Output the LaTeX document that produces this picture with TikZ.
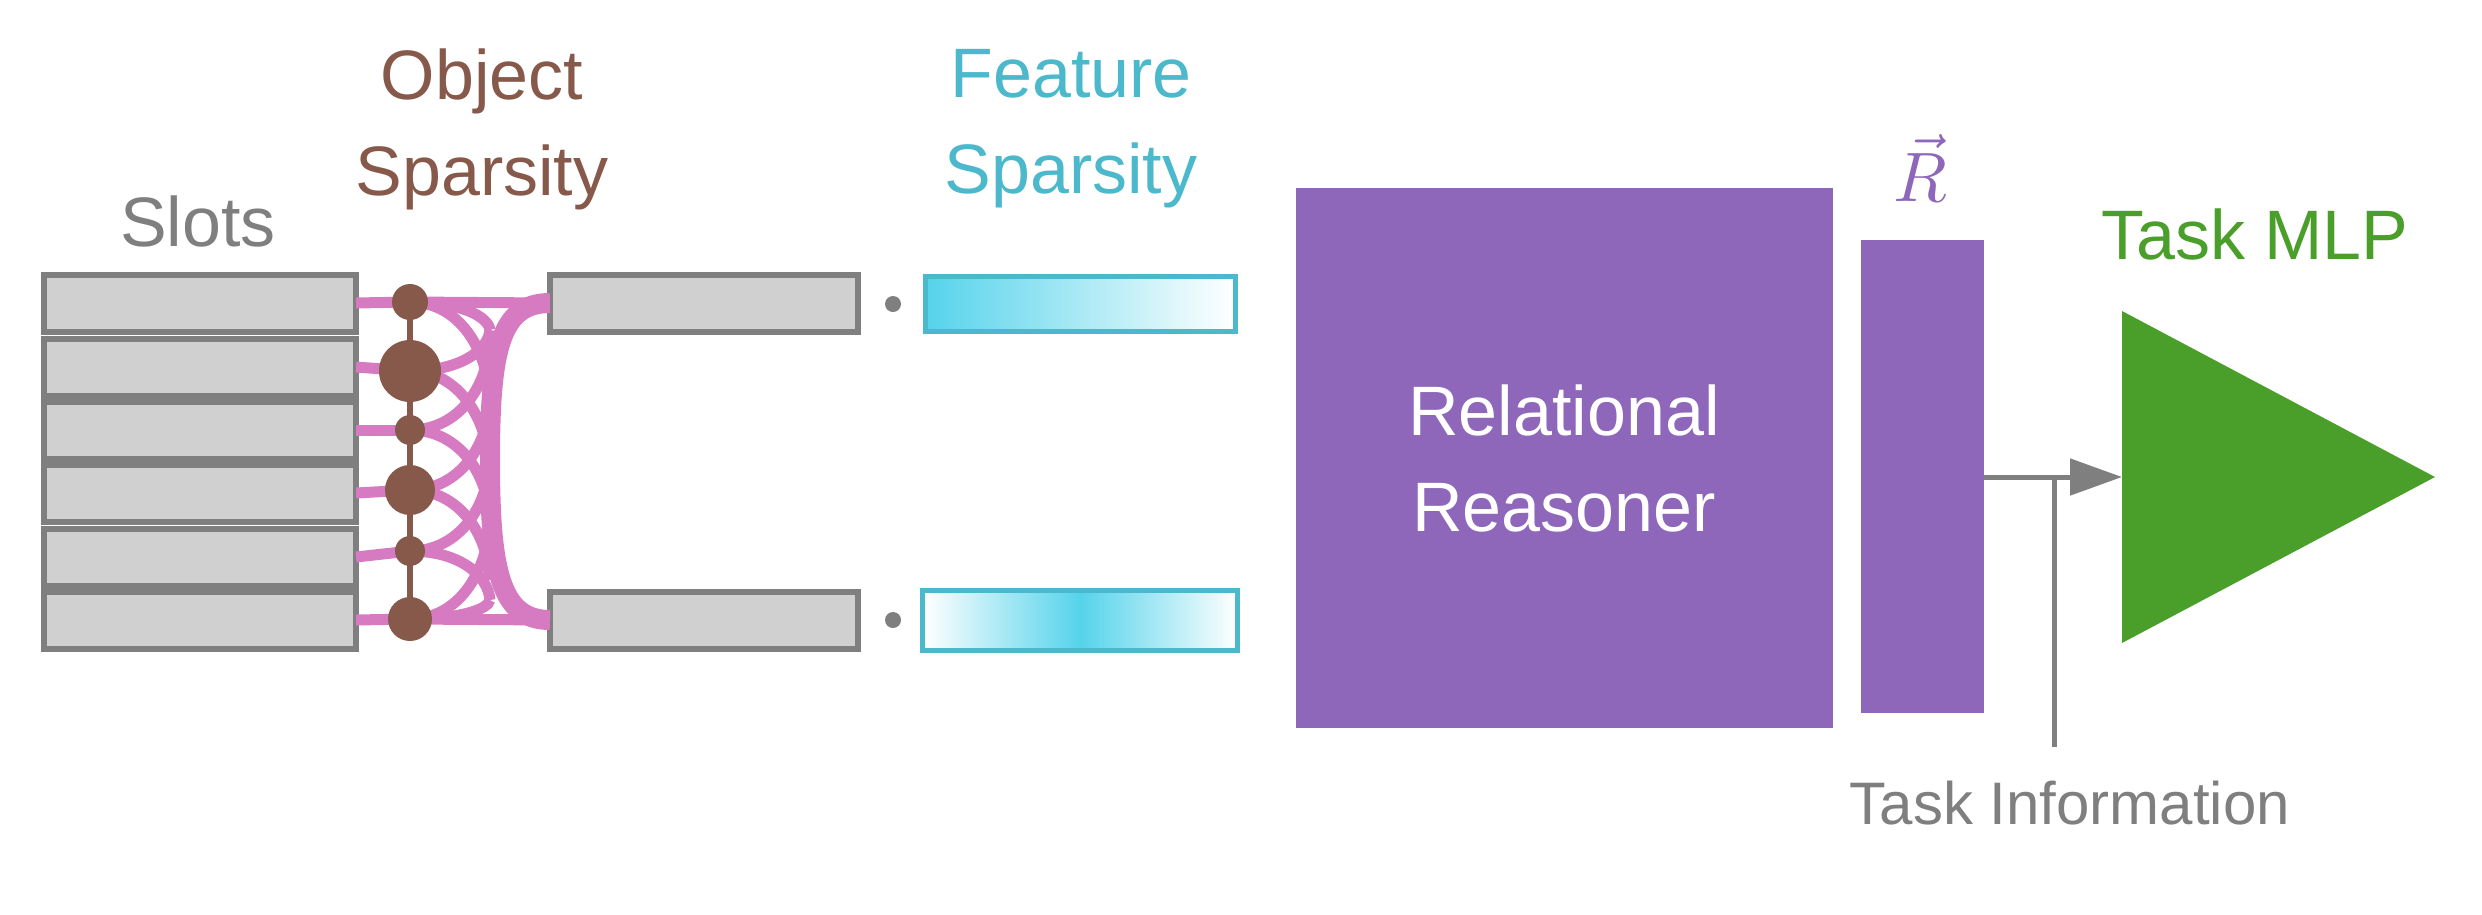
\documentclass[tikz,border=0pt]{standalone}
\usepackage{fontspec}
\setmainfont{Liberation Sans}
\usetikzlibrary{arrows.meta}
\definecolor{gb}{HTML}{7F7F7F}
\definecolor{gf}{HTML}{D0D0D0}
\definecolor{br}{HTML}{87594B}
\definecolor{pk}{HTML}{D67BC1}
\definecolor{gr}{HTML}{4A9E2A}
\definecolor{pu}{HTML}{8E67BA}
\definecolor{cy}{HTML}{4BB8CC}
\definecolor{cf}{HTML}{55D3EB}
\begin{document}
\begin{tikzpicture}[x=1pt,y=-1pt,
 slot/.style={draw=gb,fill=gf,line width=6pt,minimum width=312pt,minimum height=57pt,inner sep=0,outer sep=0},
 oslot/.style={draw=gb,fill=gf,line width=6pt,minimum width=308pt,minimum height=57pt,inner sep=0,outer sep=0},
 bead/.style={circle,fill=br,inner sep=0,minimum size=#1},
 feat/.style={draw=cy,line width=5pt,minimum width=310pt,minimum height=55pt,inner sep=0},
 pl/.style={draw=pk,line width=11pt},
 lab/.style={font=\fontsize{70}{96}\selectfont,align=center,inner sep=2pt},
 dotn/.style={circle,fill=gb,inner sep=0,minimum size=16pt}]
\useasboundingbox (0,0) rectangle (2482,914);
% slots
\foreach \i/\y in {1/303,2/367,3/430,4/493,5/557,6/620}{
 \node[slot] (s\i) at (200,\y) {};}
\node[oslot] (o1) at (704,303) {};
\node[oslot] (o2) at (704,620) {};
\foreach \i/\y in {1/302,2/371,3/430,4/490,5/551,6/619}{
 \coordinate (p\i) at (410,\y);}
% pink connections
\foreach \i/\y/\u/\d in {1/302/330/400,2/371/330/470,3/430/340/520,4/490/400/580,5/551/460/600,6/619/520/600}{
 \draw[pl] (s\i.east) -- (p\i);
 \draw[pl] (p\i) .. controls (460,\y) and (488,{(\y+\u)/2}) .. (490,\u);
 \draw[pl] (p\i) .. controls (460,\y) and (488,{(\y+\d)/2}) .. (490,\d);
}
\draw[pl] (p1) -- (o1.west);
\draw[pl] (p6) -- (o2.west);
\draw[pk,line width=20pt] (o1.west) .. controls (500,303) and (490,350) .. (490,460) .. controls (490,570) and (500,620) .. (o2.west);
% beads
\draw[br,line width=6pt] (p1) -- (p6);
\foreach \i/\r in {1/36,2/62,3/30,4/50,5/30,6/44}{
 \node[bead=\r pt] (c\i) at (p\i) {};}
% features
\node[dotn] (d1) at (893,304) {};
\node[dotn] (d2) at (893,620) {};
\node[feat,left color=cf,right color=white] (f1) at (1080,304) {};
\node[feat] (f2) at (1080,620) {};
\shade[left color=white,right color=cf] (f2.south west) rectangle (f2.north);
\shade[left color=cf,right color=white] (f2.north) rectangle (f2.south east);
\draw[cy,line width=5pt] (f2.south west) rectangle (f2.north east);
% reasoner
\node[fill=pu,minimum width=537pt,minimum height=540pt,inner sep=0,text=white,lab] (rr) at (1564,458) {Relational\\Reasoner};
\node[fill=pu,minimum width=123pt,minimum height=473pt,inner sep=0] (R) at (1922,476) {};
\node[text=pu,inner sep=0] (Rl) at (1920,168) {\scalebox{7}{$\vec{R}$}};
% MLP
\fill[gr] (2122,311) -- (2435,477) -- (2122,643) -- cycle;
\coordinate (mlp) at (2122,477);
\coordinate (ti) at (2054,747);
\coordinate (tj) at (2054,477);
\draw[gb,line width=5pt,-{Triangle[length=52pt,width=36pt]}] (R.east|-mlp) -- (mlp);
\draw[gb,line width=5pt] (ti) -- (tj);
% labels
\node[lab,text=gb] (ls) at (198,221) {Slots};
\node[lab,text=br] (lo) at (482,129) {Object\\Sparsity};
\node[lab,text=cy] (lf) at (1071,129) {Feature\\Sparsity};
\node[lab,text=gr] (lm) at (2255,234) {Task MLP};
\node[text=gb,font=\fontsize{60}{70}\selectfont] (lt) at (2070,803) {Task Information};
\end{tikzpicture}
\end{document}
